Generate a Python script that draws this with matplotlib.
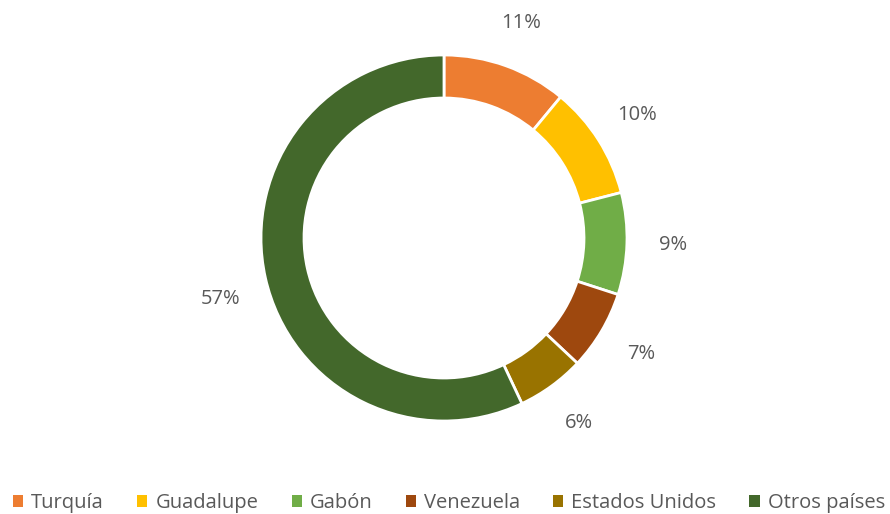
import numpy as np
import matplotlib.pyplot as plt
from matplotlib.patches import Patch

paises = ['Turquía', 'Guadalupe', 'Gabón', 'Venezuela', 'Estados Unidos', 'Otros países']
valores = [11, 10, 9, 7, 6, 57]
colores = ['#ED7D31', '#FFC000', '#70AD47', '#9E480E', '#997300', '#43682B']

plt.rcParams['font.family'] = ['Open Sans', 'DejaVu Sans']
gris = '#595959'

fig = plt.figure(figsize=(8.9, 5.14), dpi=100)
W, H = 890, 514
cx, cy, r = 444, 238, 183
ax = fig.add_axes([(cx - r) / W, (H - cy - r) / H, 2 * r / W, 2 * r / H])

ax.pie(valores, colors=colores, startangle=90, counterclock=False, radius=1.0,
       wedgeprops=dict(width=0.235, edgecolor='white', linewidth=2))

# etiquetas fuera del anillo
total = sum(valores)
ang = 90
for i, v in enumerate(valores):
    mid = np.deg2rad(ang - v / total * 360 / 2)
    ang -= v / total * 360
    rr = 1.25
    dy = -0.06 if i == 5 else 0  # Excel baja un poco la de 57%
    ax.text(rr * np.cos(mid), rr * np.sin(mid) + dy, f'{v}%', ha='center', va='center',
            fontsize=14.5, color=gris)

ax.set_xlim(-1, 1)
ax.set_ylim(-1, 1)
ax.set_aspect('equal')
ax.axis('off')

handles = [Patch(facecolor=c, edgecolor='none') for c in colores]
fig.legend(handles, paises, loc='center', bbox_to_anchor=(449 / W, 1 - 503 / H), ncol=6,
           frameon=False, fontsize=14.5, handlelength=0.5, handleheight=0.5,
           handletextpad=0.4, columnspacing=1.65, labelcolor=gris,
           borderaxespad=0, borderpad=0)

fig.savefig('out.png', dpi=100)
